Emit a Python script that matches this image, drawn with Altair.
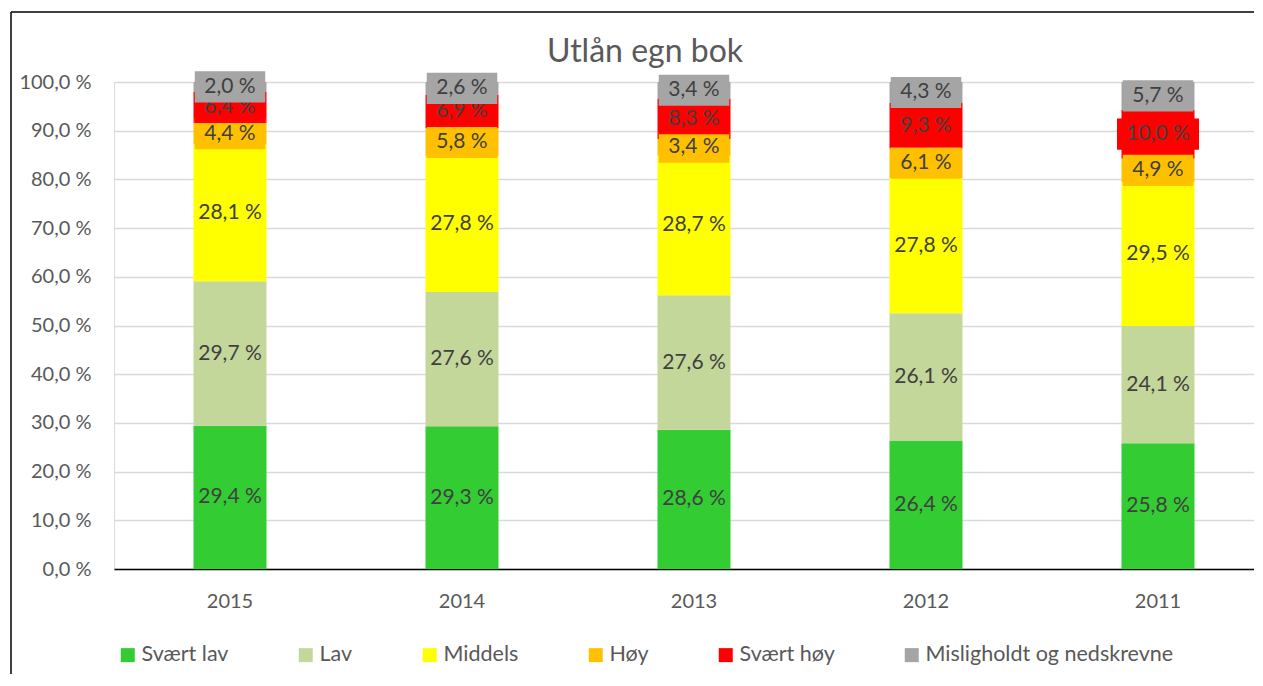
import altair as alt
import pandas as pd

years = ["2015", "2014", "2013", "2012", "2011"]
categories = ["Svært lav", "Lav", "Middels", "Høy", "Svært høy", "Misligholdt og nedskrevne"]
colors = ["#33CC33", "#C4D79B", "#FFFF00", "#FFC000", "#FF0000", "#A5A5A5"]

svart_lav = [29.4, 29.3, 28.6, 26.4, 25.8]
lav = [29.7, 27.6, 27.6, 26.1, 24.1]
middels = [28.1, 27.8, 28.7, 27.8, 29.5]
hoy = [4.4, 5.8, 3.4, 6.1, 4.9]
svart_hoy = [6.4, 6.9, 8.3, 9.3, 10.0]
mislig = [2.0, 2.6, 3.4, 4.3, 5.7]
series = [svart_lav, lav, middels, hoy, svart_hoy, mislig]

boxed = ["Høy", "Svært høy", "Misligholdt og nedskrevne"]
title_text = ["Utlån egn bok"]

rows = []
for i, cat in enumerate(categories):
    for yr, v in zip(years, series[i]):
        rows.append(dict(year=yr, cat=cat, order=i, value=v,
                         label=f"{v:.1f}".replace(".", ",") + " %"))
df = pd.DataFrame(rows)

FONT = "Lato"

base = alt.Chart(df).transform_stack(
    stack="value", as_=["v0", "v1"], groupby=["year"],
    sort=[alt.SortField("order", order="ascending")]
).transform_calculate(
    mid="(datum.v0 + datum.v1) / 2",
    b0="(datum.v0 + datum.v1) / 2 - 3.2",
    b1="(datum.v0 + datum.v1) / 2 + 3.2",
    bw="length(datum.label) * 11.5 + 13",
)

xenc = alt.X(
    "year:N", sort=years,
    scale=alt.Scale(range=[0, 1160], paddingInner=0, paddingOuter=0),
    axis=alt.Axis(title=None, labelAngle=0, ticks=False, domainColor="#000000",
                  domainWidth=1.5, labelFont=FONT, labelFontSize=20,
                  labelColor="#595959", labelPadding=22, grid=False),
)

color_scale = alt.Scale(domain=categories, range=colors)

bars = base.mark_bar(size=73).encode(
    x=xenc,
    y=alt.Y("v1:Q", scale=alt.Scale(domain=[0, 100], nice=False),
            axis=alt.Axis(values=list(range(0, 101, 10)), title=None,
                          labelExpr="replace(format(datum.value, '.1f'), '.', ',') + ' %'",
                          ticks=False, domain=False, gridColor="#D9D9D9", gridWidth=1.5,
                          labelFont=FONT, labelFontSize=20, labelColor="#595959",
                          labelPadding=23)),
    y2="v0:Q",
    color=alt.Color("cat:N", scale=color_scale, sort=categories,
                    legend=alt.Legend(orient="none", legendX=3, legendY=562,
                                      direction="horizontal", title=None,
                                      symbolType="square", symbolSize=196,
                                      symbolStrokeWidth=0, labelFont=FONT,
                                      labelFontSize=21.5, labelColor="#595959",
                                      columnPadding=66, labelOffset=3, padding=0,
                                      labelLimit=400)),
    order=alt.Order("order:Q"),
)

text_style = dict(font=FONT, fontSize=21, color="#404040", baseline="middle")

layers = [bars]
plain = base.transform_filter(
    alt.FieldOneOfPredicate(field="cat", oneOf=categories[:3])
).mark_text(**text_style).encode(x=xenc, y="mid:Q", text="label:N")
layers.append(plain)

for c in boxed:
    sub = base.transform_filter(alt.datum.cat == c)
    box = sub.mark_bar().encode(
        x=xenc, y="b1:Q", y2="b0:Q",
        size=alt.Size("bw:Q", scale=None),
        color=alt.Color("cat:N", scale=color_scale, legend=None),
    )
    txt = sub.mark_text(**text_style).encode(x=xenc, y="mid:Q", text="label:N")
    layers += [box, txt]

frame_df = pd.DataFrame({"k": [0]})
frame_left = alt.Chart(frame_df).mark_rule(color="#000000", strokeWidth=1.5).encode(
    x=alt.value(-103), y=alt.value(-70), y2=alt.value(700))
frame_top = alt.Chart(frame_df).mark_rule(color="#000000", strokeWidth=1.5).encode(
    x=alt.value(-103), x2=alt.value(1300), y=alt.value(-70))
title_df = pd.DataFrame({"t": title_text})
title = alt.Chart(title_df).mark_text(
    font=FONT, fontSize=32, color="#595959", baseline="alphabetic", align="center"
).encode(x=alt.value(531), y=alt.value(-20), text="t:N")
layers += [frame_left, frame_top, title]

chart = alt.layer(*layers).properties(
    width=1140, height=487,
    autosize=alt.AutoSizeParams(type="none"),
    padding={"left": 106, "top": 74, "right": 0, "bottom": 105},
).configure_view(stroke=None).configure(background="#ffffff")

chart.save("out.html", embed_options={"renderer": "svg", "actions": False})
